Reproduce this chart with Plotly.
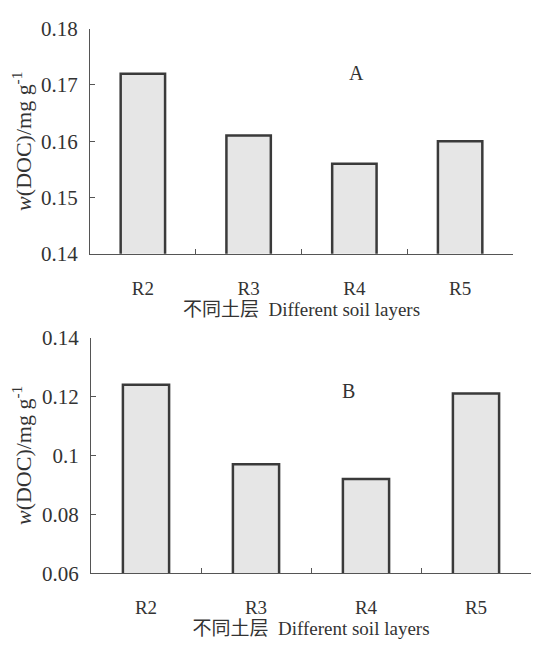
import plotly.graph_objects as go

categories = ["R2", "R3", "R4", "R5"]
values_a = [0.172, 0.161, 0.156, 0.160]
values_b = [0.124, 0.097, 0.092, 0.121]
ticks_a = [0.14, 0.15, 0.16, 0.17, 0.18]
ticks_b = [0.06, 0.08, 0.10, 0.12, 0.14]
ticktext_a = ["0.14", "0.15", "0.16", "0.17", "0.18"]
ticktext_b = ["0.06", "0.08", "0.1", "0.12", "0.14"]

serif = "Liberation Serif, Times New Roman, serif"
cjk = "Liberation Serif, Noto Sans CJK SC, serif"
xtitle = "不同土层  Different soil layers"
ytitle = "<i>w</i>(DOC)/mg g<sup>-1</sup>"

# page body has an 8px margin; figure is sized to fit inside the window
W, H, OFF = 523, 634, 8
def px(x):
    return (x - OFF) / W
def py(y):
    return 1 - (y - OFF) / H

bar_style = dict(marker=dict(color="#e6e6e6", line=dict(color="#3a3a3a", width=2.5)),
                 showlegend=False, hoverinfo="x+y")

fig = go.Figure()
fig.add_trace(go.Bar(x=categories, y=values_a, xaxis="x", yaxis="y", **bar_style))
fig.add_trace(go.Bar(x=categories, y=values_b, xaxis="x2", yaxis="y2", **bar_style))

axis_common = dict(showline=True, linecolor="#555", linewidth=1.2, showgrid=False,
                   zeroline=False, ticks="inside", tickcolor="#555", ticklen=5)
xfont = dict(family=serif, size=19, color="#333")
yfont = dict(family=serif, size=21, color="#333")
xtfont = dict(family=cjk, size=19, color="#333")
ytfont = dict(family=serif, size=22, color="#333")

fig.update_layout(
    width=W, height=H,
    margin=dict(l=0, r=0, t=0, b=0),
    paper_bgcolor="white", plot_bgcolor="white",
    bargap=0.58,
    xaxis=dict(domain=[px(90), px(513)], anchor="y", tickson="boundaries",
               ticklabelstandoff=17, tickfont=xfont,
               title=dict(text=xtitle, standoff=4, font=xtfont),
               **axis_common),
    yaxis=dict(domain=[py(251), py(17)], anchor="x", range=[0.14, 0.18],
               tickvals=ticks_a, ticktext=ticktext_a, ticklabelstandoff=7, tickfont=yfont,
               title=dict(text=ytitle, standoff=10, font=ytfont),
               **axis_common),
    xaxis2=dict(domain=[px(91), 1.0], anchor="y2", tickson="boundaries",
                ticklabelstandoff=17, tickfont=xfont,
                title=dict(text=xtitle, standoff=4, font=xtfont),
                **axis_common),
    yaxis2=dict(domain=[py(583), py(338)], anchor="x2", range=[0.06, 0.14],
                tickvals=ticks_b, ticktext=ticktext_b, ticklabelstandoff=7, tickfont=yfont,
                title=dict(text=ytitle, standoff=10, font=ytfont),
                **axis_common),
    annotations=[
        dict(text="A", x=px(356), y=py(50), xref="paper", yref="paper", showarrow=False,
             font=dict(family=serif, size=20, color="#333")),
        dict(text="B", x=px(357), y=py(394), xref="paper", yref="paper", showarrow=False,
             font=dict(family=serif, size=20, color="#333")),
    ],
)

fig.write_html("out.html")
